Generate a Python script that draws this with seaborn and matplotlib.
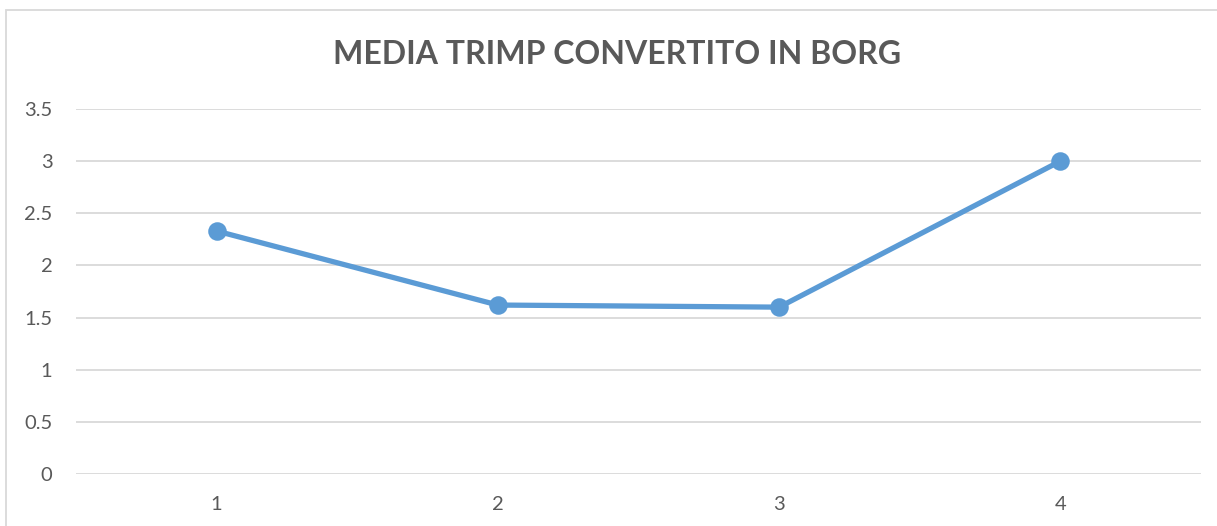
import matplotlib
matplotlib.use("Agg")
import matplotlib.pyplot as plt
import seaborn as sns
import pandas as pd
from matplotlib.patches import Rectangle

categories = ["1", "2", "3", "4"]
values = [2.33, 1.62, 1.60, 3.0]
yticks = [0, 0.5, 1, 1.5, 2, 2.5, 3, 3.5]
title = "MEDIA TRIMP CONVERTITO IN BORG"

sns.set_theme(style="white")
plt.rcParams['font.family'] = ['Lato', 'DejaVu Sans']

df = pd.DataFrame({"x": categories, "y": values})

fig = plt.figure(figsize=(12.17, 5.26), dpi=100)
ax = fig.add_axes([76/1217, 1-474/526, (1201-76)/1217, (474-109)/526])

sns.pointplot(data=df, x="x", y="y", color="#5B9BD5", markers="o",
              markersize=10.5, linewidth=3.8, ax=ax)

ax.set_ylim(0, 3.5)
ax.set_xlim(-0.5, 3.5)
ax.set_yticks(yticks)
ax.set_yticklabels([f"{t:g}" for t in yticks])
ax.yaxis.grid(True, color="#D9D9D9", linewidth=1.3)
ax.set_axisbelow(True)
for s in ax.spines.values():
    s.set_visible(False)
ax.tick_params(axis="both", length=0, labelsize=14.5, colors="#595959")
ax.tick_params(axis="x", pad=16)
ax.tick_params(axis="y", pad=17)
ax.set_xlabel("")
ax.set_ylabel("")

fig.text(617/1217, 1-54/526, title, ha="center", va="center",
         fontsize=23, fontweight="bold", color="#595959")

fig.patches.append(Rectangle((6/1217, -0.1), 1.2, 1-10/526+0.1,
                             transform=fig.transFigure, fill=False,
                             edgecolor="#D9D9D9", linewidth=1.3))

fig.savefig("out.png", dpi=100)
